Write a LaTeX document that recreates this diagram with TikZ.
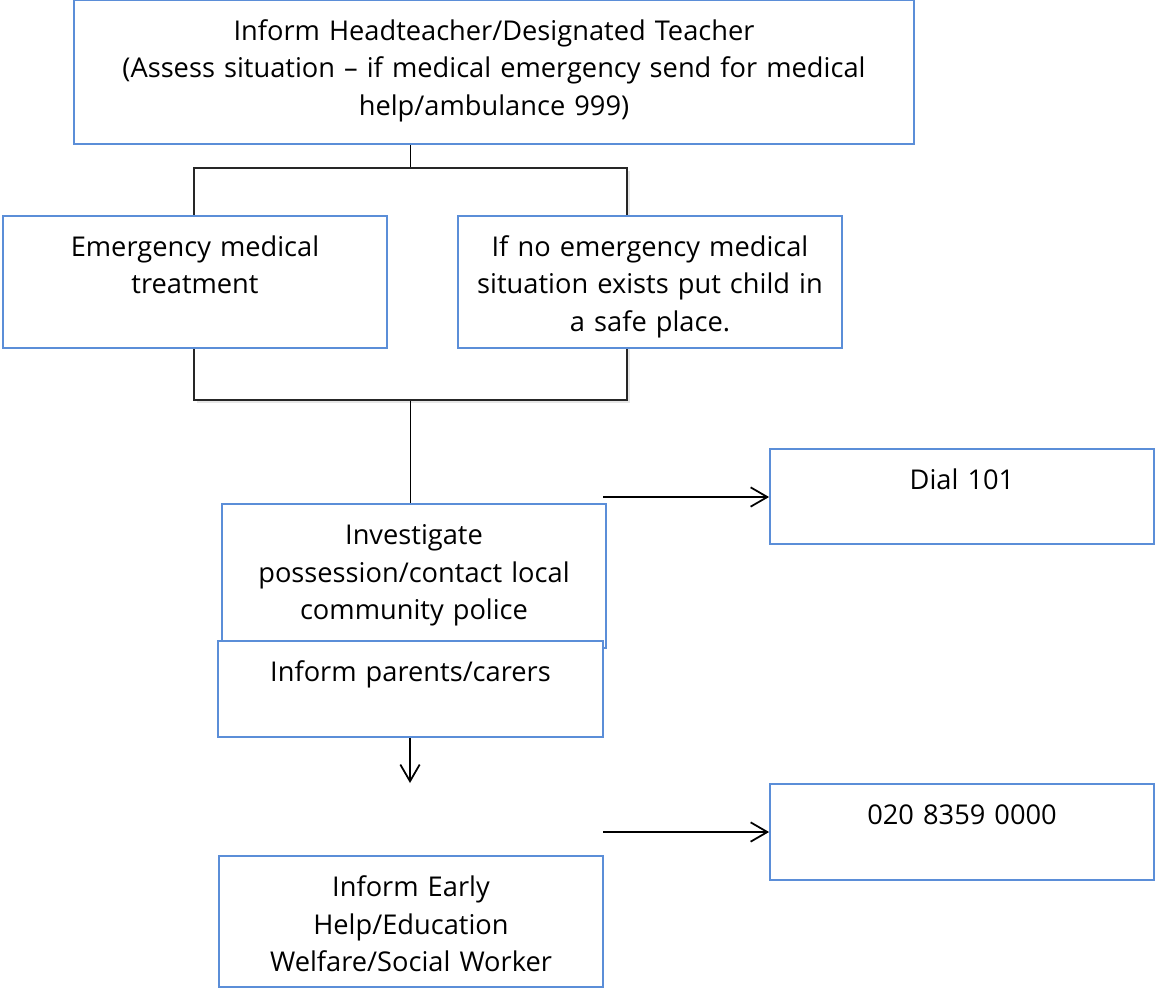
\documentclass[tikz,border=0pt]{standalone}
\usepackage{fontspec}
\setmainfont{Open Sans}
\usetikzlibrary{positioning,arrows.meta,shadows}
\definecolor{boxblue}{HTML}{5B8ED8}
\begin{document}
\begin{tikzpicture}[x=0.02cm,y=-0.02cm,
    flowbox/.style={draw=boxblue,line width=1.1pt,fill=white,inner sep=0pt},
    lbl/.style={anchor=base,align=center,text width=7.4cm,inner sep=0pt,
        font=\fontsize{15.5}{21.6}\selectfont},
    link/.style={line width=1pt,black}]
    \tikzstyle{arrow}=[link,-{Straight Barb[length=9.5pt,width=11pt]}]
    \useasboundingbox (0,0) rectangle (1155,988);

    % bracket behind the two first choices
    \node[draw=black!85,line width=1pt,fill=white,minimum width=8.66cm,minimum height=4.64cm,
        drop shadow={opacity=0.2,shadow xshift=1.5pt,shadow yshift=-1.5pt}] (fork) at (410.5,284) {};

    \node[flowbox,minimum width=16.8cm,minimum height=2.88cm] (head) at (494,72) {};
    \node[flowbox,minimum width=7.68cm,minimum height=2.64cm] (treat) at (195,282) {};
    \node[flowbox,minimum width=7.68cm,minimum height=2.64cm] (safe) at (650,282) {};
    \node[flowbox,minimum width=7.68cm,minimum height=2.88cm] (police) at (414,576) {};
    \node[flowbox,minimum width=7.7cm,minimum height=1.92cm] (parents) at (410.5,689) {};
    \node[flowbox,minimum width=7.68cm,minimum height=1.9cm] (dial) at (962,496.5) {};
    \node[flowbox,minimum width=7.68cm,minimum height=1.92cm] (phone) at (962,832) {};
    \node[flowbox,minimum width=7.68cm,minimum height=2.62cm] (early) at (411,921.5) {};

    \node[lbl,text width=16cm] (headtxt) at ([yshift=-0.82cm]head.north)
        {Inform Headteacher/Designated Teacher\\(Assess situation – if medical emergency send for medical\\help/ambulance 999)};
    \node[lbl] (treattxt) at ([yshift=-0.82cm]treat.north) {Emergency medical\\treatment};
    \node[lbl] (safetxt) at ([yshift=-0.82cm]safe.north)
        {If no emergency medical\\situation exists put child in\\a safe place.};
    \node[lbl] (policetxt) at ([yshift=-0.82cm]police.north)
        {Investigate\\possession/contact local\\community police};
    \node[lbl] (parentstxt) at ([yshift=-0.82cm]parents.north) {Inform parents/carers};
    \node[lbl] (dialtxt) at ([yshift=-0.82cm]dial.north) {Dial 101};
    \node[lbl] (phonetxt) at ([yshift=-0.82cm]phone.north) {020 8359 0000};
    \node[lbl] (earlytxt) at ([yshift=-0.82cm]early.north)
        {Inform Early\\Help/Education\\Welfare/Social Worker};

    \coordinate (down) at (410,783);
    \coordinate (out1) at (603,497);
    \coordinate (out2) at (603,832);

    \draw[link] (fork.north) -- (fork.north |- head.south);
    \draw[link] (fork.south) -- (fork.south |- police.north);
    \draw[arrow] (parents.south -| down) -- (down);
    \draw[arrow] (out1) -- (out1 -| dial.west);
    \draw[arrow] (out2) -- (out2 -| phone.west);

\end{tikzpicture}
\end{document}
